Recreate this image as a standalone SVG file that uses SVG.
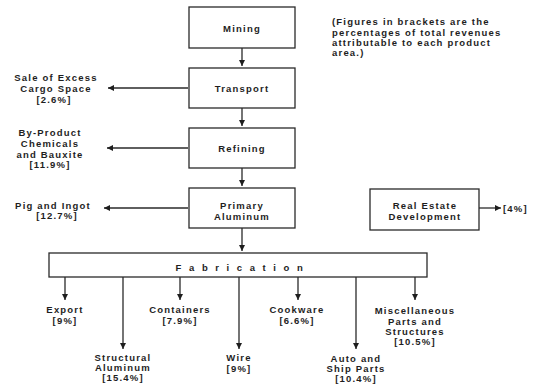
<svg xmlns="http://www.w3.org/2000/svg" width="540" height="385" viewBox="0 0 540 385">
  <style>
    .box { fill: #fff; stroke: #2a2a2a; stroke-width: 1.3; }
    .ln { fill: none; stroke: #2a2a2a; stroke-width: 1.3; marker-end: url(#ah); }
    text { font-family: "Liberation Sans", Arial, sans-serif; font-weight: bold; font-size: 9.5px; letter-spacing: 1.2px; fill: #1e1e1e; }
    .c { text-anchor: middle; }
    .fab { letter-spacing: 7.6px; }
    .note { letter-spacing: 1.6px; }
  </style>
  <defs>
    <marker id="ah" viewBox="0 0 10 10" refX="10" refY="5" markerWidth="7" markerHeight="6" markerUnits="userSpaceOnUse" orient="auto">
      <path d="M0,0 L10,5 L0,10 z" fill="#1e1e1e"/>
    </marker>
  </defs>

  <rect width="540" height="385" fill="#fff"/>

  <!-- connectors -->
  <g id="connectors">
    <line class="ln" x1="242" y1="48" x2="242" y2="66"/>
    <line class="ln" x1="242" y1="108" x2="242" y2="126"/>
    <line class="ln" x1="242" y1="168" x2="242" y2="186"/>
    <line class="ln" x1="242" y1="228" x2="242" y2="251"/>
    <line class="ln" x1="188" y1="88" x2="108" y2="88"/>
    <line class="ln" x1="188" y1="148" x2="107" y2="148"/>
    <line class="ln" x1="188" y1="208" x2="104" y2="208"/>
    <line class="ln" x1="479" y1="208" x2="501" y2="208"/>
    <line class="ln" x1="65" y1="277" x2="65" y2="300"/>
    <line class="ln" x1="123" y1="277" x2="123" y2="349"/>
    <line class="ln" x1="180" y1="277" x2="180" y2="300"/>
    <line class="ln" x1="239" y1="277" x2="239" y2="349"/>
    <line class="ln" x1="298" y1="277" x2="298" y2="300"/>
    <line class="ln" x1="356" y1="277" x2="356" y2="349"/>
    <line class="ln" x1="415" y1="277" x2="415" y2="300"/>
  </g>

  <!-- process chain -->
  <g id="mining">
    <rect class="box" x="189" y="7" width="106" height="41"/>
    <text class="c" x="242" y="31.5">Mining</text>
  </g>
  <g id="transport">
    <rect class="box" x="189" y="68" width="106" height="40"/>
    <text class="c" x="242" y="91.5">Transport</text>
  </g>
  <g id="refining">
    <rect class="box" x="189" y="128" width="106" height="40"/>
    <text class="c" x="242" y="151.5">Refining</text>
  </g>
  <g id="primary-aluminum">
    <rect class="box" x="189" y="188" width="106" height="40"/>
    <text class="c" x="242" y="208.5">Primary</text>
    <text class="c" x="242" y="219.5">Aluminum</text>
  </g>
  <g id="real-estate">
    <rect class="box" x="370" y="189" width="109" height="41"/>
    <text class="c" x="425" y="208.5">Real Estate</text>
    <text class="c" x="425" y="219.5">Development</text>
  </g>
  <g id="fabrication">
    <rect class="box" x="49" y="253" width="378" height="24"/>
    <text class="c fab" x="243" y="270.5">Fabrication</text>
  </g>

  <!-- note -->
  <g id="note" class="note">
    <text x="332" y="25">(Figures in brackets are the</text>
    <text x="332" y="35.5">percentages of total revenues</text>
    <text x="332" y="45.5">attributable to each product</text>
    <text x="332" y="55.5">area.)</text>
  </g>

  <!-- side products -->
  <g id="cargo-space">
    <text class="c" x="56" y="80.5">Sale of Excess</text>
    <text class="c" x="56" y="91.5">Cargo Space</text>
    <text class="c" x="54" y="102.5">[2.6%]</text>
  </g>
  <g id="by-product">
    <text class="c" x="50" y="136">By-Product</text>
    <text class="c" x="50" y="147">Chemicals</text>
    <text class="c" x="50" y="157.5">and Bauxite</text>
    <text class="c" x="50" y="167.5">[11.9%]</text>
  </g>
  <g id="pig-ingot">
    <text class="c" x="53" y="208.5">Pig and Ingot</text>
    <text class="c" x="57" y="219">[12.7%]</text>
  </g>
  <g id="real-estate-share">
    <text x="503" y="211.5">[4%]</text>
  </g>

  <!-- fabricated products -->
  <g id="export">
    <text class="c" x="65" y="312.5">Export</text>
    <text class="c" x="65" y="323.5">[9%]</text>
  </g>
  <g id="structural">
    <text class="c" x="123" y="360.5">Structural</text>
    <text class="c" x="123" y="371">Aluminum</text>
    <text class="c" x="123" y="381">[15.4%]</text>
  </g>
  <g id="containers">
    <text class="c" x="180" y="312.5">Containers</text>
    <text class="c" x="180" y="323.5">[7.9%]</text>
  </g>
  <g id="wire">
    <text class="c" x="239" y="360.5">Wire</text>
    <text class="c" x="239" y="371.5">[9%]</text>
  </g>
  <g id="cookware">
    <text class="c" x="297" y="312.5">Cookware</text>
    <text class="c" x="297" y="323.5">[6.6%]</text>
  </g>
  <g id="auto-ship">
    <text class="c" x="356" y="361.5">Auto and</text>
    <text class="c" x="356" y="371.5">Ship Parts</text>
    <text class="c" x="356" y="381.5">[10.4%]</text>
  </g>
  <g id="misc">
    <text class="c" x="415" y="314">Miscellaneous</text>
    <text class="c" x="415" y="324.5">Parts and</text>
    <text class="c" x="415" y="334.5">Structures</text>
    <text class="c" x="415" y="345">[10.5%]</text>
  </g>
</svg>
